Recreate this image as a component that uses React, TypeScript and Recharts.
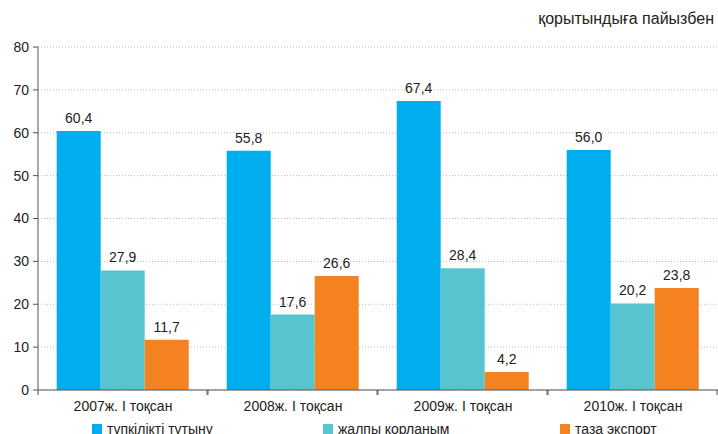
import React from "react";
import { BarChart, Bar, XAxis, YAxis, CartesianGrid, LabelList, Legend } from "recharts";

const categories = ["2007ж. І тоқсан", "2008ж. І тоқсан", "2009ж. І тоқсан", "2010ж. І тоқсан"];
const finalConsumption = [60.4, 55.8, 67.4, 56.0];
const grossAccumulation = [27.9, 17.6, 28.4, 20.2];
const netExport = [11.7, 26.6, 4.2, 23.8];
const seriesNames = ["түпкілікті тұтыну", "жалпы қорланым", "таза экспорт"];
const yTicks = [0, 10, 20, 30, 40, 50, 60, 70, 80];
const title = "қорытындыға пайызбен";

const colors = ["#00AEEF", "#56C5D0", "#F58220"];

const data = categories.map((c, i) => ({
  name: c,
  a: finalConsumption[i],
  b: grossAccumulation[i],
  c: netExport[i],
}));

const W = 718;
const H = 434;
const LEFT = 38;
const FONT = "'Liberation Sans', Arial, sans-serif";

const fmt = (v: any) => Number(v).toFixed(1).replace(".", ",");

const XTick = (props: any) => {
  const { x, y, payload } = props;
  const half = (W - LEFT) / categories.length / 2;
  return (
    <g>
      <line x1={x - half} x2={x - half} y1={y - 8} y2={y - 3} stroke="#555" />
      <line x1={x + half - 1} x2={x + half - 1} y1={y - 8} y2={y - 3} stroke="#555" />
      <text x={x} y={y + 13} textAnchor="middle" fontSize={14} fill="#222" fontFamily={FONT}>
        {payload.value}
      </text>
    </g>
  );
};

const legendX = [92, 323, 560];

const LegendContent = () => (
  <div style={{ position: "relative", width: W, height: 14 }}>
    {seriesNames.map((n, i) => (
      <div key={n} style={{ position: "absolute", left: legendX[i], top: 2, display: "flex", alignItems: "center", fontFamily: FONT, fontSize: 14, color: "#222", whiteSpace: "nowrap" }}>
        <span style={{ display: "inline-block", width: 10, height: 10, background: colors[i], marginRight: 5 }} />
        <span style={{ lineHeight: "14px" }}>{n}</span>
      </div>
    ))}
  </div>
);

export default function App() {
  return (
    <div style={{ position: "absolute", left: 0, top: 0, width: W, height: H, background: "#fff", overflow: "hidden" }}>
      <div style={{ position: "absolute", right: 4, top: 10, fontFamily: FONT, fontSize: 16, color: "#222", whiteSpace: "nowrap" }}>
        {title}
      </div>
      <BarChart
        width={W}
        height={H}
        data={data}
        margin={{ top: 47, right: 0, left: 0, bottom: 0 }}
        barCategoryGap="11%"
        barGap={0}
      >
        <CartesianGrid vertical={false} stroke="#bbb" strokeDasharray="1 2" />
        <XAxis dataKey="name" tick={<XTick />} tickLine={false} axisLine={{ stroke: "#555" }} height={30} interval={0} />
        <YAxis
          domain={[0, 80]}
          ticks={yTicks}
          width={LEFT}
          tickSize={5}
          tickMargin={4}
          axisLine={{ stroke: "#555" }}
          tickLine={{ stroke: "#555" }}
          tick={{ fontSize: 14, fill: "#222", fontFamily: FONT }}
          interval={0}
        />
        <Legend verticalAlign="bottom" height={14} content={<LegendContent />} />
        <Bar dataKey="a" name={seriesNames[0]} fill={colors[0]} isAnimationActive={false}>
          <LabelList dataKey="a" position="top" offset={8} formatter={fmt} style={{ fontSize: 14, fill: "#222", fontFamily: FONT }} />
        </Bar>
        <Bar dataKey="b" name={seriesNames[1]} fill={colors[1]} isAnimationActive={false}>
          <LabelList dataKey="b" position="top" offset={8} formatter={fmt} style={{ fontSize: 14, fill: "#222", fontFamily: FONT }} />
        </Bar>
        <Bar dataKey="c" name={seriesNames[2]} fill={colors[2]} isAnimationActive={false}>
          <LabelList dataKey="c" position="top" offset={8} formatter={fmt} style={{ fontSize: 14, fill: "#222", fontFamily: FONT }} />
        </Bar>
      </BarChart>
    </div>
  );
}
